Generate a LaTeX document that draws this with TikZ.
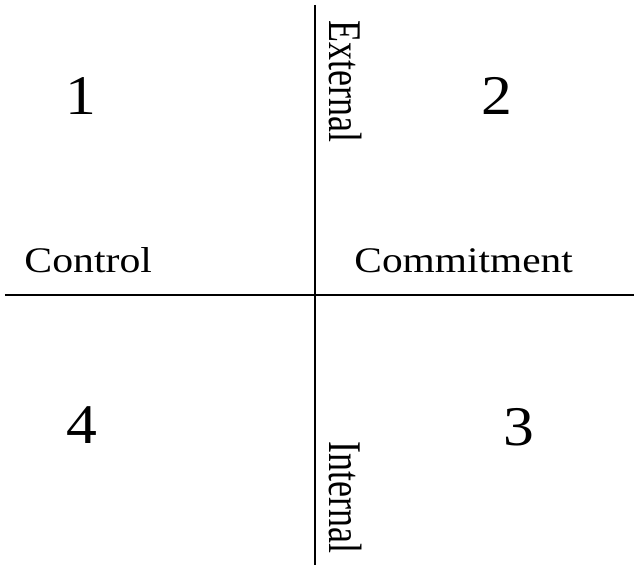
\documentclass[tikz,border=0pt]{standalone}
\usepackage{fontspec}
\setmainfont{Liberation Serif}
\usepackage{graphicx}
\begin{document}
\begin{tikzpicture}[x=0.5pt,y=-0.5pt,
  axis/.style={line width=1pt,black},
  num/.style={inner sep=0pt,font=\fontsize{28}{30}\selectfont},
  lbl/.style={inner sep=0pt,font=\fontsize{18}{20}\selectfont},
  vlbl/.style={inner sep=0pt,rotate=-90,font=\fontsize{18}{20}\selectfont}]
\useasboundingbox (0,0) rectangle (634,565);
\coordinate (vtop) at (315,5);
\coordinate (vbot) at (315,565);
\coordinate (hl) at (5,295);
\coordinate (hr) at (634,295);
\draw[axis] (vtop) -- (vbot);
\draw[axis] (hl) -- (hr);
\node[num] (q1) at (81,96) {\scalebox{1.1}[1]{1}};
\node[num] (q2) at (497,95.5) {\scalebox{1.1}[1]{2}};
\node[num] (q4) at (82,425) {\scalebox{1.1}[1]{4}};
\node[num] (q3) at (519,427) {\scalebox{1.1}[1]{3}};
\node[lbl,anchor=base west] (ctrl) at (24,273) {\scalebox{1.16}[1]{Control}};
\node[lbl,anchor=base west] (comm) at (354,273) {\scalebox{1.15}[1]{Commitment}};
\node[vlbl] (ext) at (346,81.5) {\scalebox{1}[1.3]{External}};
\node[vlbl] (int) at (346,497.5) {\scalebox{1}[1.3]{Internal}};
\end{tikzpicture}
\end{document}
